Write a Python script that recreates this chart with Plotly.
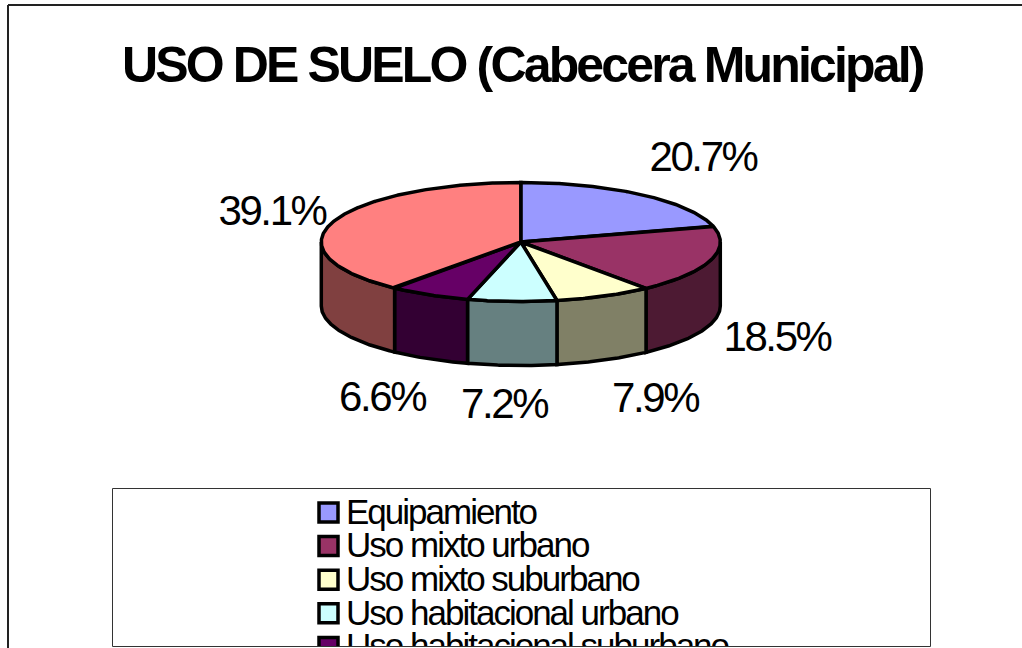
import numpy as np
import plotly.graph_objects as go

TITLE = "USO DE SUELO (Cabecera Municipal)"
VALUES = [20.7, 18.5, 7.9, 7.2, 6.6, 39.1]
LEGEND_LABELS = ["Equipamiento", "Uso mixto urbano", "Uso mixto suburbano",
                 "Uso habitacional urbano", "Uso habitacional suburbano"]
TOP_COLORS = ["#9999FF", "#993366", "#FFFFCC", "#CCFFFF", "#660066", "#FF8080"]
SIDE_COLORS = ["#4D4D80", "#4D1A33", "#808066", "#668080", "#330033", "#804040"]

# layout, in page pixels
CX, CY, RX, RY, DEPTH = 520.8, 242.0, 199.5, 59.5, 64.0
LABEL_XY = [(703, 160), (777, 340), (655, 401), (504, 407), (382, 400), (272, 214)]
ROW_Y0, ROW_STEP = 515, 33.6


def rim(a0, a1, dz=0.0):
    t = np.linspace(a0, a1, max(3, int(abs(a1 - a0) * 120)))
    return CX + RX * np.sin(t), CY - RY * np.cos(t) + dz


fig = go.Figure()
edges = np.concatenate([[0], np.cumsum(VALUES)]) / sum(VALUES) * 2 * np.pi
LINE = dict(color="black", width=3.5)

# side walls (only the part facing the viewer)
for i in range(len(VALUES)):
    a0, a1 = max(edges[i], np.pi / 2), min(edges[i + 1], 3 * np.pi / 2)
    if a1 <= a0:
        continue
    x0, y0 = rim(a0, a1)
    x1, y1 = rim(a1, a0, DEPTH)
    fig.add_trace(go.Scatter(x=np.r_[x0, x1, x0[0]], y=np.r_[y0, y1, y0[0]],
                             mode="lines", fill="toself", fillcolor=SIDE_COLORS[i],
                             line=LINE, hoverinfo="skip", showlegend=False))
# top faces
for i in range(len(VALUES)):
    x0, y0 = rim(edges[i], edges[i + 1])
    fig.add_trace(go.Scatter(x=np.r_[CX, x0, CX], y=np.r_[CY, y0, CY],
                             mode="lines", fill="toself", fillcolor=TOP_COLORS[i],
                             line=LINE, hoverinfo="skip", showlegend=False))

# data labels
fig.add_trace(go.Scatter(x=[p[0] for p in LABEL_XY], y=[p[1] for p in LABEL_XY],
                         mode="text", text=[f"{v:.1f}%" for v in VALUES],
                         textposition="middle center",
                         textfont=dict(family="Liberation Sans", size=42, color="black"),
                         hoverinfo="skip", showlegend=False))

# legend rows
rows = ROW_Y0 + ROW_STEP * np.arange(len(LEGEND_LABELS))
fig.add_trace(go.Scatter(x=[328.5] * len(rows), y=rows - 2.5, mode="markers",
                         marker=dict(symbol="square", size=19, color=TOP_COLORS[:len(rows)],
                                     line=dict(color="black", width=3.5)),
                         hoverinfo="skip", showlegend=False))
fig.add_trace(go.Scatter(x=[346] * len(rows), y=rows, mode="text", text=LEGEND_LABELS,
                         textposition="middle right",
                         textfont=dict(family="Liberation Sans", size=35, color="black"),
                         hoverinfo="skip", showlegend=False))

FRAME = dict(color="#222222", width=2)
shapes = [
    dict(type="rect", x0=0, x1=1022, y0=647, y1=648, fillcolor="white", line_width=0, layer="above"),
    dict(type="rect", x0=112.5, x1=930.5, y0=488.5, y1=646.5, line=dict(color="#333333", width=1), layer="above"),
    dict(type="line", x0=8, x1=8, y0=5, y1=648, line=FRAME, layer="above"),
    dict(type="line", x0=8, x1=1022, y0=5, y1=5, line=FRAME, layer="above"),
]

fig.update_layout(
    width=1022, height=648, margin=dict(l=0, r=0, t=0, b=0),
    paper_bgcolor="white", plot_bgcolor="white",
    title=dict(text=TITLE, x=0.511, xanchor="center", y=0.9, yanchor="middle", yref="container",
               font=dict(family="Liberation Sans", size=50, color="black", weight="bold")),
    xaxis=dict(range=[0, 1022], visible=False, fixedrange=True),
    yaxis=dict(range=[648, 0], visible=False, fixedrange=True),
    shapes=shapes,
)

POST = """
var s = document.createElement('style');
s.textContent = 'html,body{margin:0;overflow:hidden} svg text{letter-spacing:-0.057em}';
document.head.appendChild(s);
"""
fig.write_html("out.html", post_script=POST, config={"displayModeBar": False})
